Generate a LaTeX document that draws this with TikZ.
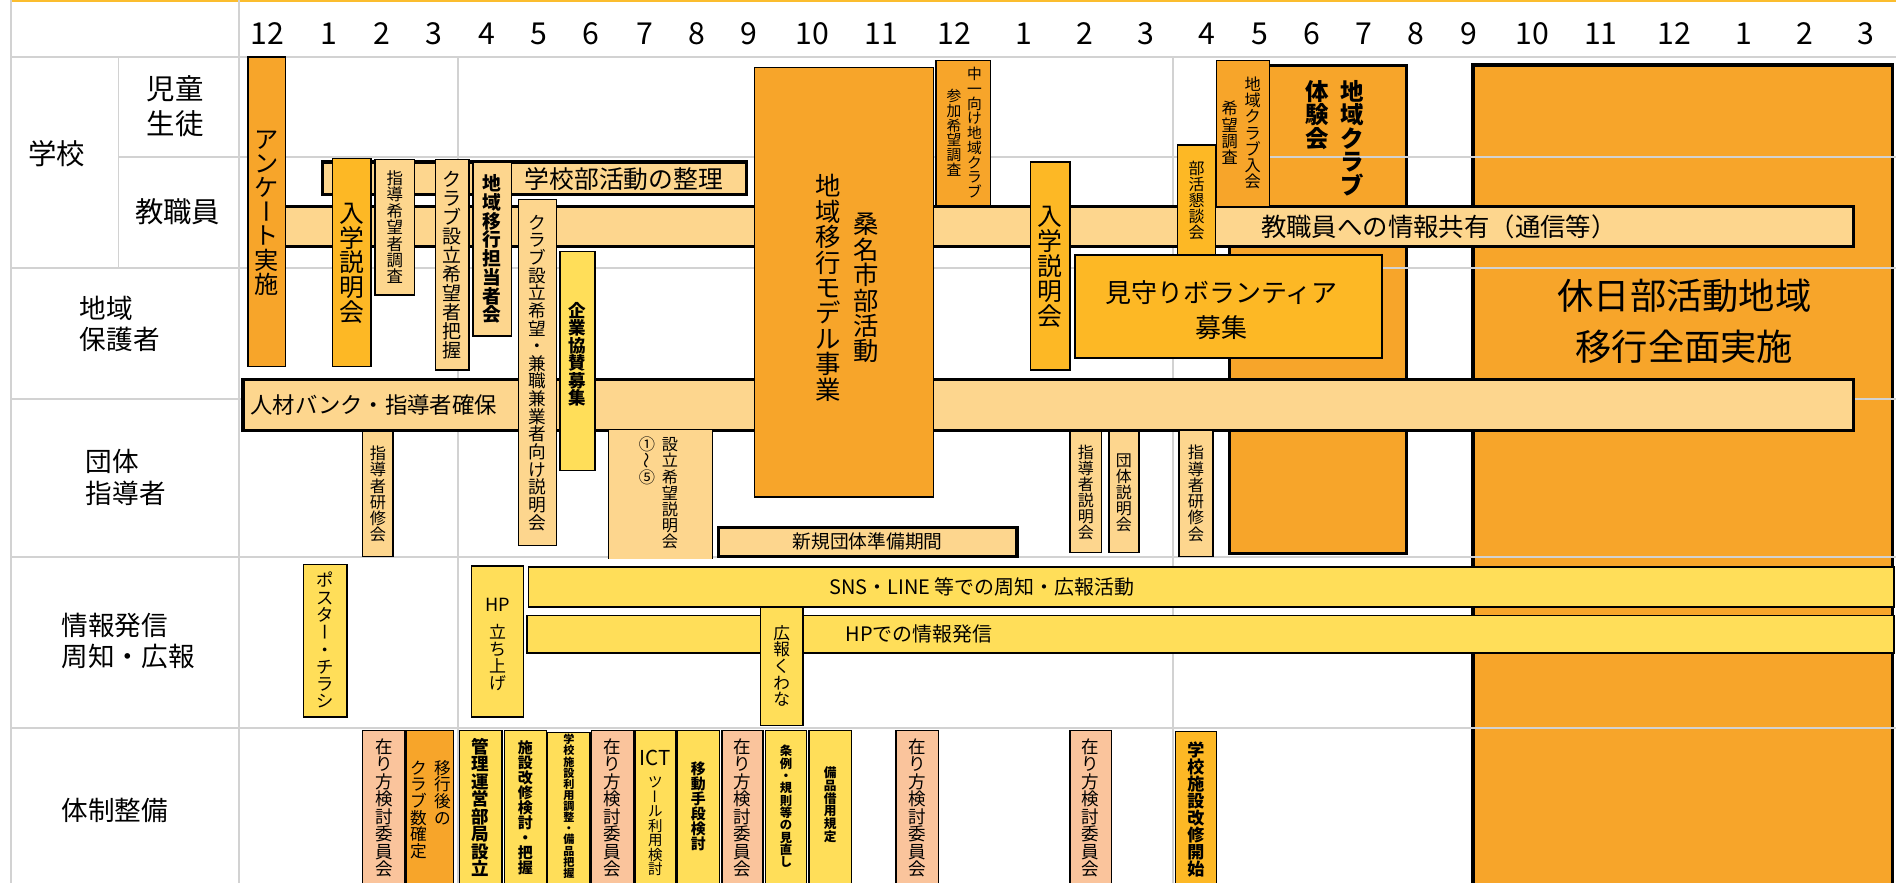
\documentclass[tikz,border=0pt]{standalone}
\usepackage{fontspec}
\setmainfont{Noto Sans CJK JP}
\usepackage{graphicx}
\definecolor{cOr}{HTML}{F7A52A}
\definecolor{cAm}{HTML}{FDB825}
\definecolor{cLt}{HTML}{FDD68E}
\definecolor{cYe}{HTML}{FFDE59}
\definecolor{cSa}{HTML}{FAC49C}
\definecolor{cGr}{HTML}{D2D2D2}
\definecolor{cTop}{HTML}{FBBD2E}
\newcommand\fs[1]{\fontsize{#1}{#1}\selectfont}
\let\vtendmark\relax
\def\vtendtest{\vtendmark}
\def\vtbar{ー}
\def\vttilde{～}
\newcommand\vtrot[1]{\rotatebox[origin=c]{-90}{\rule[-.12em]{0pt}{1em}#1}}
\def\vtchar#1{\def\vtcur{#1}\hbox to 1em{\hss\rule[-.12em]{0pt}{1em}\ifx\vtcur\vtbar\vtrot{#1}\else\ifx\vtcur\vttilde\vtrot{#1}\else#1\fi\fi\hss}}
\def\vtloop#1{\def\vtcur{#1}\ifx\vtcur\vtendtest\else\vtchar{#1}\expandafter\vtloop\fi}
\newcommand\vt[1]{\vbox{\offinterlineskip\vtloop#1\vtendmark}}
\newcommand\bx[7][]{\node[box,#1,minimum width={#5-#3},minimum height={#6-#4}] (#2) at (#3,#4) {#7};}
\begin{document}
\begin{tikzpicture}[x=1pt,y=-1pt]
\tikzset{
 every node/.style={inner sep=0pt,outer sep=0pt,text=black},
 gridln/.style={draw=cGr,line width=1.6pt},
 box/.style={draw=black,line width=1.2pt,anchor=north west},
 thk/.style={line width=2.6pt},
 or/.style={fill=cOr}, am/.style={fill=cAm}, lt/.style={fill=cLt},
 ye/.style={fill=cYe}, sa/.style={fill=cSa},
 mon/.style={font=\fs{25}},
 lbl/.style={font=\fontsize{22}{26}\selectfont, align=left, anchor=west},
 vtn/.style={anchor=north},
}
\useasboundingbox (0,0) rectangle (1568,730);
\fill[white] (0,0) rectangle (1568,730);
% big boxes under the grid
\bx[or,line width=2.5pt]{taiken}{1017}{54}{1163}{458}{}
\bx[or,line width=3pt]{kyujitsu}{1218}{54}{1565}{745}{}
% grid
\draw[draw=cTop,line width=2pt] (9,1) -- (1568,1);
\draw[gridln] (9,0) -- (9,730);
\draw[gridln] (198,0) -- (198,730);
\draw[gridln] (98,47) -- (98,222);
\draw[gridln] (379,47) -- (379,730);
\draw[gridln] (970,47) -- (970,730);
\draw[gridln] (9,47) -- (1568,47);
\draw[gridln] (98,130) -- (1568,130);
\draw[gridln] (9,222) -- (1568,222);
\draw[gridln] (9,330) -- (1568,330);
\draw[gridln] (9,461) -- (1568,461);
\draw[gridln] (9,602) -- (1568,602);
% months
\foreach \x/\m [count=\i] in {221/12,272/1,316/2,359/3,403/4,446/5,489/6,533/7,576/8,619/9,672/10,729/11,789/12,847/1,897/2,948/3,998/4,1042/5,1085/6,1128/7,1171/8,1215/9,1267/10,1324/11,1385/12,1442/1,1493/2,1543/3}
  \node[mon] (m\i) at (\x,28) {\m};
% row labels
\node[font=\fs{23.5}] (lgakko) at (47,127) {学校};
\node[font=\fontsize{23.5}{29}\selectfont,align=center] (ljido) at (145,88) {児童\\生徒};
\node[font=\fs{23.5}] (lkyo) at (147,175) {教職員};
\node[lbl] (lchiiki) at (66,268) {地域\\保護者};
\node[lbl] (ldantai) at (71,395) {団体\\指導者};
\node[lbl] (ljoho) at (51,530) {情報発信\\周知・広報};
\node[lbl] (ltaisei) at (51,670) {体制整備};
% texts of big boxes
\node[vtn,font={\fs{19.4}\bfseries}] (taikenR) at (1118,66) {\vt{地域クラブ}};
\node[vtn,font={\fs{19.4}\bfseries}] (taikenL) at (1089,66) {\vt{体験会}};
\node[font=\fontsize{30}{42}\selectfont,align=center] (kyujitsuT) at (1393,266) {休日部活動地域\\移行全面実施};
% long bars
\bx[lt,thk]{seiri}{267}{134}{617}{161}{}
\node[font=\fs{20.5}] (seiriT) at (516,148) {学校部活動の整理};
\bx[lt,thk]{kyoshoku}{207}{171}{1533}{204}{}
\node[font=\fs{21}] (kyoshokuT) at (1190,188) {教職員への情報共有（通信等）};
\bx[lt,thk]{jinzai}{201}{314}{1533}{356}{}
\node[font=\fs{18.5},anchor=west] (jinzaiT) at (207,335) {人材バンク・指導者確保};
% school rows
\bx[or,font=\fs{20}]{anq}{205}{47}{236}{303}{\vt{アンケート実施}}
\bx[am,font=\fs{20.5}]{nyugaku1}{275}{131}{307}{303}{\vt{入学説明会}}
\bx[lt,font=\fs{13.6}]{shidokibo}{310}{132}{343}{244}{\vt{指導希望者調査}}
\bx[lt,font=\fs{15.7}]{clubhaaku}{360}{132}{388}{306}{\vt{クラブ設立希望者把握}}
\bx[lt,font={\fs{15.5}\bfseries}]{tanto}{391}{134}{423}{278}{\vt{地域移行担当者会}}
\bx[lt,font=\fs{14.6}]{kenshoku}{429}{165}{460}{451}{\vt{クラブ設立希望・兼職兼業者向け説明会}}
\bx[ye]{kigyo}{463}{208}{492}{389}{}
\node[font={\fs{14.5}\bfseries}] (kigyoT) at (477.5,293) {\vt{企業協賛募集}};
\bx[or]{kuwana}{624}{56}{772}{411}{}
\node[font=\fs{21}] (kuwanaR) at (716,238) {\vt{桑名市部活動}};
\node[font=\fs{21}] (kuwanaL) at (685,238) {\vt{地域移行モデル事業}};
\bx[or]{chuichi}{774}{50}{819}{170}{}
\node[font=\fs{12.2}] (chuichiR) at (806,110) {\vt{中一向け地域クラブ}};
\node[font=\fs{12.2}] (chuichiL) at (789,110) {\vt{参加希望調査}};
\bx[am,font=\fs{20.5}]{nyugaku2}{852}{134}{885}{306}{\vt{入学説明会}}
\bx[am,font=\fs{13.2}]{kondan}{974}{120}{1005}{211}{\vt{部活懇談会}}
\bx[or]{nyukai}{1006}{50}{1050}{171}{}
\node[font=\fs{13.4}] (nyukaiR) at (1036,110) {\vt{地域クラブ入会}};
\node[font=\fs{13.4}] (nyukaiL) at (1017,110) {\vt{希望調査}};
\bx[am]{mimamori}{889}{211}{1143}{296}{}
\node[font=\fontsize{21.5}{29}\selectfont,align=center] (mimamoriT) at (1010,256.5) {見守りボランティア\\募集};
% dantai row
\node[lt,anchor=north west,minimum width=86,minimum height=106] (setsumei) at (503,356) {};
\draw[line width=1pt] (setsumei.north west) -- (setsumei.south west) (setsumei.north east) -- (setsumei.south east);
\node[vtn,font=\fs{13.4}] (setsumeiR) at (554,361) {\vt{設立希望説明会}};
\node[vtn,font=\fs{13.4}] (setsumeiL) at (535,361) {\vt{①～⑤}};
\bx[lt,font=\fs{13.4}]{kenshu1}{300}{357}{325}{460}{\vt{指導者研修会}}
\bx[lt,font=\fs{13.2}]{shidosetsu}{885}{357}{911}{457}{\vt{指導者説明会}}
\bx[lt,font=\fs{13.2}]{dantai}{917}{357}{942}{457}{\vt{団体説明会}}
\bx[lt,font=\fs{13.4}]{kenshu2}{975}{356}{1003}{460}{\vt{指導者研修会}}
\bx[lt,thk,font=\fs{15.5}]{shinki}{594}{436}{841}{460}{新規団体準備期間}
% joho row
\bx[ye,line width=1.5pt]{sns}{437}{469}{1566}{502}{}
\node[font=\fs{16.5}] (snsT) at (812,485) {SNS・LINE 等での周知・広報活動};
\bx[ye,line width=1.5pt]{hpbar}{436}{509}{1566}{540}{}
\node[font=\fs{16.5}] (hpbarT) at (760,524) {HPでの情報発信};
\bx[ye,font=\fs{14.3}]{poster}{251}{467}{287}{593}{\vt{ポスター・チラシ}}
\bx[ye]{hp}{390}{468}{433}{593}{}
\node[font=\fs{15}] (hpT1) at (411.5,500) {HP};
\node[font=\fs{14}] (hpT2) at (411.5,544) {\vt{立ち上げ}};
\bx[ye,font=\fs{13.8}]{kouhou}{629}{502}{664}{600}{\vt{広報くわな}}
% taisei row
\bx[sa]{ar1}{300}{604}{335}{745}{}
\node[vtn,font=\fs{14.5}] (ar1T) at (317.5,610) {\vt{在り方検討委員会}};
\bx[or]{ikogo}{336}{604}{375}{745}{}
\node[vtn,font=\fs{13.8}] (ikogoR) at (366,628) {\vt{移行後の}};
\node[vtn,font=\fs{13.8}] (ikogoL) at (346,628) {\vt{クラブ数確定}};
\bx[ye]{kanri}{380}{604}{415}{745}{}
\node[vtn,font={\fs{14.5}\bfseries}] (kanriT) at (397.5,610) {\vt{管理運営部局設立}};
\bx[ye]{shisetsu}{417}{604}{452}{745}{}
\node[vtn,font={\fs{12.4}\bfseries}] (shisetsuT) at (434.5,612) {\vt{施設改修検討・把握}};
\bx[ye]{riyo}{453}{606}{488}{745}{}
\node[vtn,font={\fs{9.2}\bfseries}] (riyoT) at (470.5,607) {\vt{学校施設利用調整・備品把握}};
\bx[sa]{ar2}{489}{604}{524}{745}{}
\node[vtn,font=\fs{14.5}] (ar2T) at (506.5,610) {\vt{在り方検討委員会}};
\bx[ye]{ict}{525}{604}{559}{745}{}
\node[font=\fs{17}] (ictT1) at (542,627) {ICT};
\node[vtn,font=\fs{12}] (ictT2) at (542,641) {\vt{ツール利用検討}};
\bx[ye]{ido}{560}{604}{595}{745}{}
\node[vtn,font={\fs{12.3}\bfseries}] (idoT) at (577.5,630) {\vt{移動手段検討}};
\bx[sa]{ar3}{597}{604}{631}{745}{}
\node[vtn,font=\fs{14.5}] (ar3T) at (614,610) {\vt{在り方検討委員会}};
\bx[ye]{jorei}{633}{604}{667}{745}{}
\node[vtn,font={\fs{10.2}\bfseries}] (joreiT) at (650,616) {\vt{条例・規則等の見直し}};
\bx[ye]{bihin}{669}{604}{704}{745}{}
\node[vtn,font={\fs{10.5}\bfseries}] (bihinT) at (686.5,634) {\vt{備品借用規定}};
\bx[sa]{ar4}{741}{604}{776}{745}{}
\node[vtn,font=\fs{14.5}] (ar4T) at (758.5,610) {\vt{在り方検討委員会}};
\bx[sa]{ar5}{885}{604}{919}{745}{}
\node[vtn,font=\fs{14.5}] (ar5T) at (902,610) {\vt{在り方検討委員会}};
\bx[am]{kaishu}{972}{605}{1006}{745}{}
\node[vtn,font={\fs{14.1}\bfseries}] (kaishuT) at (989,613) {\vt{学校施設改修開始}};
\end{tikzpicture}
\end{document}
